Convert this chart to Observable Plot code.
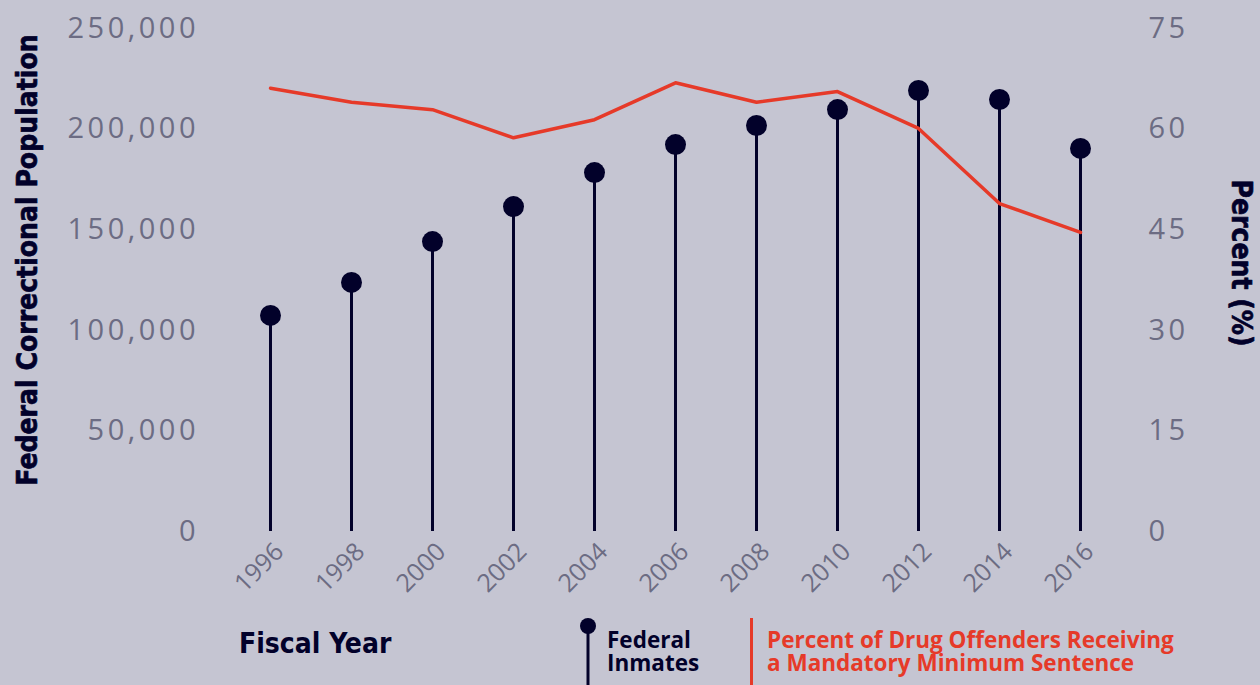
<!DOCTYPE html>
<html>
<head>
<meta charset="utf-8">
<script src="https://cdn.jsdelivr.net/npm/d3@7"></script>
<script src="https://cdn.jsdelivr.net/npm/@observablehq/plot@0.6"></script>
<style>
  html, body { margin: 0; padding: 0; background: #c5c5d2; }
  #wrap { width: 1260px; height: 685px; position: relative; overflow: hidden; background: #c5c5d2; }
  #legend { position: relative; width: 1260px; height: 75px; font-family: "Open Sans", sans-serif; }
  .fy { position: absolute; left: 239px; top: 18px; font-family: "DejaVu Sans Condensed", "DejaVu Sans", sans-serif; font-stretch: condensed; font-weight: 700; font-size: 28px; line-height: 32px; color: #02012a; }
  .ln { position: absolute; font-weight: 700; font-size: 22.5px; line-height: 22px; white-space: nowrap; }
  .nv { left: 607px; color: #02012a; }
  .rd { left: 767px; color: #e63a29; }
  .t1 { top: 19px; }
  .t2 { top: 41.5px; }
  .dotsw { position: absolute; left: 578px; top: 6px; }
  .redsw { position: absolute; left: 750px; top: 8px; width: 3px; height: 67px; background: #e63a29; }
  #chart g[aria-label="y-axis tick label"] { letter-spacing: 3.5px; }
</style>
</head>
<body>
<div id="wrap">
  <div id="chart"></div>
  <div id="legend">
    <div class="fy">Fiscal Year</div>
    <svg class="dotsw" width="20" height="69"><line x1="10" x2="10" y1="10" y2="69" stroke="#02012a" stroke-width="3"/><circle cx="10" cy="10" r="8" fill="#02012a"/></svg>
    <div class="ln nv t1">Federal</div>
    <div class="ln nv t2">Inmates</div>
    <div class="redsw"></div>
    <div class="ln rd t1">Percent of Drug Offenders Receiving</div>
    <div class="ln rd t2">a Mandatory Minimum Sentence</div>
  </div>
</div>
<script>
const years = [1996, 1998, 2000, 2002, 2004, 2006, 2008, 2010, 2012, 2014, 2016];
const inmates = [107400, 123800, 144100, 161500, 178400, 192300, 201800, 209700, 219200, 214700, 190400];
const percent = [66.1, 64.0, 62.9, 58.7, 61.4, 66.9, 64.0, 65.6, 60.1, 48.9, 44.6];
const leftTicks = [0, 50000, 100000, 150000, 200000, 250000];
const leftLabels = ["0", "50,000", "100,000", "150,000", "200,000", "250,000"];
const rightTicks = [0, 15, 30, 45, 60, 75];
const rightLabels = ["0", "15", "30", "45", "60", "75"];
const leftMax = 250000, rightMax = 75;
const toLeft = p => p / rightMax * leftMax;

const rows = years.map((year, i) => ({year, inmates: inmates[i], pct: percent[i], pctScaled: toLeft(percent[i])}));

const navy = "#02012a", red = "#e63a29", gray = "#6c6c83";
const titleFont = "'DejaVu Sans Condensed', 'DejaVu Sans', sans-serif";

const chart = Plot.plot({
  width: 1260,
  height: 610,
  marginTop: 28,
  marginBottom: 79,
  marginLeft: 270,
  marginRight: 180,
  style: {background: "transparent", fontFamily: "'Open Sans', sans-serif", overflow: "visible"},
  x: {domain: [1996, 2016], type: "linear"},
  y: {domain: [0, leftMax]},
  marks: [
    Plot.axisX({ticks: years, tickFormat: d => String(d), tickSize: 0, tickRotate: -45, tickPadding: 16, dx: 9, fontSize: 25, fill: gray, label: null}),
    Plot.axisY({anchor: "left", ticks: leftTicks, tickFormat: (d, i) => leftLabels[i], tickSize: 0, tickPadding: 71.5, fontSize: 29, fill: gray, label: null}),
    Plot.axisY({anchor: "right", ticks: rightTicks.map(toLeft), tickFormat: (d, i) => rightLabels[i], tickSize: 0, tickPadding: 68, fontSize: 29, fill: gray, label: null}),
    Plot.ruleX(rows, {x: "year", y1: 0, y2: "inmates", stroke: navy, strokeWidth: 3}),
    Plot.dot(rows, {x: "year", y: "inmates", r: 10.5, fill: navy}),
    Plot.line(rows, {x: "year", y: "pctScaled", stroke: red, strokeWidth: 3.5}),
    Plot.text(["Federal Correctional Population"], {frameAnchor: "left", rotate: -90, dx: -242, dy: -20, fontSize: 28, fontWeight: 700, fontFamily: titleFont, fill: navy, textAnchor: "middle", stroke: navy, strokeWidth: 0.6}),
    Plot.text(["Percent (%)"], {frameAnchor: "right", rotate: 90, dx: 160, dy: -17, fontSize: 28, fontWeight: 700, fontFamily: titleFont, fill: navy, textAnchor: "middle", stroke: navy, strokeWidth: 0.6})
  ]
});
document.getElementById("chart").appendChild(chart);
</script>
</body>
</html>
